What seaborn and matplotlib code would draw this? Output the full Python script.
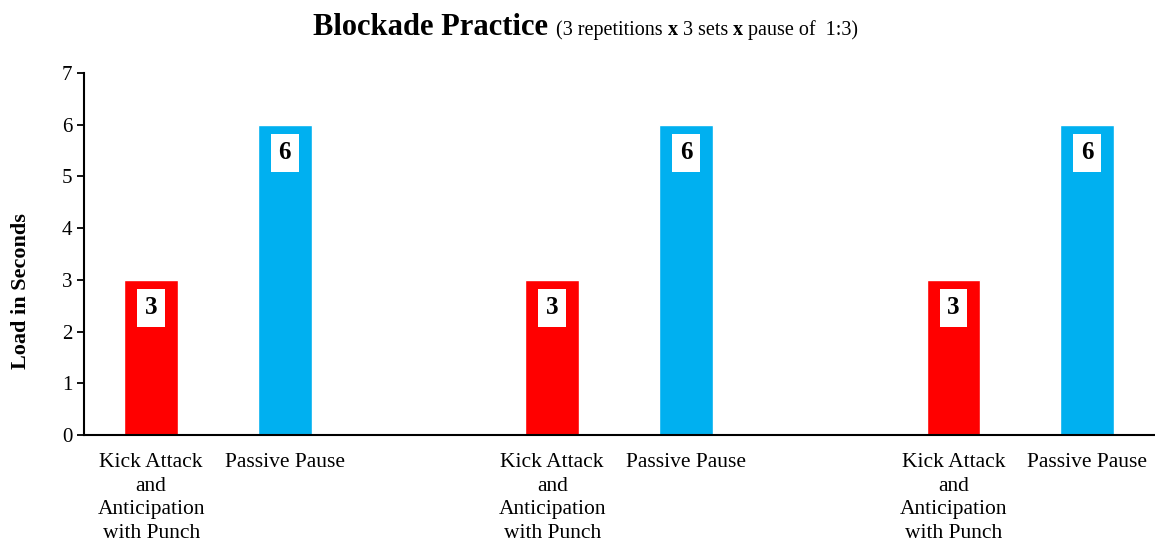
import numpy as np
import pandas as pd
import matplotlib
matplotlib.use("Agg")
import matplotlib.pyplot as plt
import seaborn as sns

# slots along the x axis (gaps are empty categories)
slots = ["kick1", "pause1", "gap1", "kick2", "pause2", "gap2", "kick3", "pause3"]
slot_labels = ["Kick Attack\nand\nAnticipation\nwith Punch", "Passive Pause", "",
               "Kick Attack\nand\nAnticipation\nwith Punch", "Passive Pause", "",
               "Kick Attack\nand\nAnticipation\nwith Punch", "Passive Pause"]
bar_slots = ["kick1", "pause1", "kick2", "pause2", "kick3", "pause3"]
bar_kind = ["kick", "pause", "kick", "pause", "kick", "pause"]
bar_values = [3, 6, 3, 6, 3, 6]
colors = {"kick": "#FF0000", "pause": "#00B0F0"}

df = pd.DataFrame({"slot": bar_slots, "kind": bar_kind, "value": bar_values})

sns.set_style("white")
plt.rcParams["font.family"] = ["Liberation Serif", "DejaVu Serif"]
plt.rcParams["text.color"] = "black"
plt.rcParams["axes.labelcolor"] = "black"
plt.rcParams["xtick.color"] = "black"
plt.rcParams["ytick.color"] = "black"

fig = plt.figure(figsize=(11.55, 5.45), dpi=100)
ax = fig.add_axes([0.073, 0.202, 0.926, 0.664])

sns.barplot(data=df, x="slot", y="value", hue="kind", order=slots, palette=colors,
            width=0.4, dodge=False, legend=False, ax=ax, saturation=1)

# value labels in white boxes
for p in ax.patches:
    h = p.get_height()
    if np.isnan(h) or h == 0:
        continue
    ax.annotate(f"{h:g}", (p.get_x() + p.get_width() / 2, h), xytext=(0, -20),
                textcoords="offset points", ha="center", va="center",
                fontsize=18, fontweight="bold",
                bbox=dict(boxstyle="square,pad=0.3", fc="white", ec="none"))

ax.set_xlim(-0.5, len(slots) - 0.5)
ax.set_ylim(0, 7)
ax.set_yticks(range(0, 8))
ax.set_xticks(range(len(slots)))
ax.set_xticklabels(slot_labels, fontsize=15.5, va="top")
for lab in ax.get_xticklabels():
    lab.set_linespacing(1.33)
ax.set_xticks(np.arange(-0.5, len(slots), 1.0), minor=True)
ax.tick_params(axis="x", which="major", length=0, pad=13)
ax.tick_params(axis="x", which="minor", length=5, width=1.3, direction="out")
ax.tick_params(axis="y", length=5, width=1.3, direction="out", labelsize=15, left=True)
ax.set_xlabel("")
ax.set_ylabel("Load in Seconds", fontsize=16, fontweight="bold")
ax.yaxis.set_label_coords(-0.05, 0.398)

for s in ["top", "right"]:
    ax.spines[s].set_visible(False)
for s in ["left", "bottom"]:
    ax.spines[s].set_color("black")
    ax.spines[s].set_linewidth(1.5)

# title made of pieces, drawn one after the other
pieces = [("Blockade Practice ", 22, "bold"), ("(3 repetitions ", 14.5, "normal"),
          ("x", 14.5, "bold"), (" 3 sets ", 14.5, "normal"), ("x", 14.5, "bold"),
          (" pause of  1:3)", 14.5, "normal")]
fig.canvas.draw()
r = fig.canvas.get_renderer()
texts = []
x = 0.0
for s, fs, fw in pieces:
    t = fig.text(x, 0.935, s, ha="left", va="baseline", fontsize=fs, fontweight=fw)
    w = t.get_window_extent(r).width / fig.bbox.width
    texts.append((t, w))
    x += w
start = 0.507 - x / 2
for t, w in texts:
    t.set_x(start)
    start += w

fig.savefig("out.png", dpi=100)
